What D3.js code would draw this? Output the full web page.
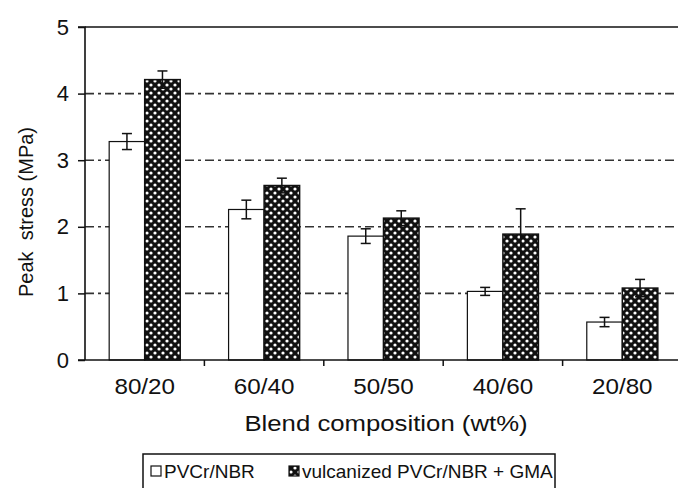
<!DOCTYPE html>
<html>
<head>
<meta charset="utf-8">
<script src="https://cdn.jsdelivr.net/npm/d3@7"></script>
<style>
  body { margin: 0; background: #fff; }
  svg { display: block; font-family: "Liberation Sans", Arial, sans-serif; }
</style>
</head>
<body>
<svg id="chart"></svg>
<script>
// data
const categories = ["80/20", "60/40", "50/50", "40/60", "20/80"];
const seriesNames = ["PVCr/NBR", "vulcanized PVCr/NBR + GMA"];
const pvcValues = [3.28, 2.26, 1.86, 1.03, 0.57];
const pvcErrors = [0.12, 0.14, 0.11, 0.06, 0.07];
const gmaValues = [4.21, 2.62, 2.13, 1.89, 1.08];
const gmaErrors = [0.13, 0.11, 0.11, 0.38, 0.13];
const yTicks = [0, 1, 2, 3, 4, 5];

const width = 678, height = 488;
const margin = { top: 27, right: -4, bottom: 128, left: 85 };
const innerW = width - margin.left - margin.right;
const innerH = height - margin.top - margin.bottom;

const svg = d3.select("#chart").attr("width", width).attr("height", height);

// dotted pattern for the dark bars
const defs = svg.append("defs");
const pat = defs.append("pattern")
  .attr("id", "dots")
  .attr("patternUnits", "userSpaceOnUse")
  .attr("width", 8).attr("height", 8);
pat.append("rect").attr("width", 8).attr("height", 8).attr("fill", "#111");
pat.append("circle").attr("cx", 2).attr("cy", 2).attr("r", 1.6).attr("fill", "#fff");
pat.append("circle").attr("cx", 6).attr("cy", 6).attr("r", 1.6).attr("fill", "#fff");

const g = svg.append("g").attr("transform", `translate(${margin.left},${margin.top})`);

const x = d3.scaleBand().domain(categories).range([0, innerW]).paddingInner(0).paddingOuter(0);
const xSub = d3.scaleBand().domain(seriesNames).range([0, x.bandwidth() * 0.595])
  .padding(0);
const groupOffset = (x.bandwidth() - xSub.range()[1]) / 2;
const y = d3.scaleLinear().domain([0, 5]).range([innerH, 0]);

// gridlines
g.append("g")
  .selectAll("line")
  .data(yTicks.filter(d => d > 0 && d < 5))
  .join("line")
  .attr("x1", 0).attr("x2", innerW)
  .attr("y1", d => y(d)).attr("y2", d => y(d))
  .attr("stroke", "#333").attr("stroke-width", 1.6)
  .attr("stroke-dasharray", "9,4,3,4");

// top line
g.append("line")
  .attr("x1", 0).attr("x2", innerW)
  .attr("y1", y(5)).attr("y2", y(5))
  .attr("stroke", "#111").attr("stroke-width", 1.6);

const rows = categories.map((c, i) => [
  { cat: c, s: seriesNames[0], v: pvcValues[i], e: pvcErrors[i] },
  { cat: c, s: seriesNames[1], v: gmaValues[i], e: gmaErrors[i] }
]).flat();

// bars
g.append("g")
  .selectAll("rect")
  .data(rows)
  .join("rect")
  .attr("x", d => x(d.cat) + groupOffset + xSub(d.s))
  .attr("y", d => y(d.v))
  .attr("width", xSub.bandwidth())
  .attr("height", d => y(0) - y(d.v))
  .attr("fill", d => d.s === seriesNames[0] ? "#fff" : "url(#dots)")
  .attr("stroke", "#111")
  .attr("stroke-width", d => d.s === seriesNames[0] ? 1.2 : 1.5);

// error bars
const eb = g.append("g").selectAll("g").data(rows).join("g")
  .attr("transform", d => `translate(${x(d.cat) + groupOffset + xSub(d.s) + xSub.bandwidth() / 2},0)`)
  .attr("stroke", "#111").attr("stroke-width", 1.5);
eb.append("line")
  .attr("y1", d => y(d.v - d.e)).attr("y2", d => y(d.v + d.e));
eb.append("line")
  .attr("x1", -5).attr("x2", 5)
  .attr("y1", d => y(d.v + d.e)).attr("y2", d => y(d.v + d.e));
eb.append("line")
  .attr("x1", -5).attr("x2", 5)
  .attr("y1", d => y(d.v - d.e)).attr("y2", d => y(d.v - d.e));

// y axis
const yAxis = g.append("g")
  .call(d3.axisLeft(y).tickValues(yTicks).tickSize(7).tickPadding(9).tickFormat(d3.format("d")));
yAxis.select(".domain").attr("stroke", "#111").attr("stroke-width", 1.6).attr("d", `M-7,${y(5)}H0V${y(0)}`);
yAxis.selectAll(".tick line").attr("stroke", "#111").attr("stroke-width", 1.5);
yAxis.selectAll(".tick text").attr("fill", "#111").attr("font-size", 22)
  .attr("font-family", "Liberation Sans, Arial, sans-serif");

// x axis: ticks between categories
const xAxis = g.append("g").attr("transform", `translate(0,${innerH})`);
xAxis.append("line")
  .attr("x1", -7).attr("x2", innerW)
  .attr("stroke", "#111").attr("stroke-width", 1.6);
xAxis.selectAll(".sep")
  .data(categories.slice(1))
  .join("line")
  .attr("class", "sep")
  .attr("x1", d => x(d)).attr("x2", d => x(d))
  .attr("y1", 0).attr("y2", 6)
  .attr("stroke", "#111").attr("stroke-width", 1.5);
xAxis.selectAll("text")
  .data(categories)
  .join("text")
  .attr("transform", d => `translate(${x(d) + x.bandwidth() / 2},34) scale(1.1,1)`)
  .attr("text-anchor", "middle")
  .attr("font-size", 22)
  .attr("fill", "#111")
  .text(d => d);

// axis titles
svg.append("text")
  .attr("transform", "translate(386,431) scale(1.17,1)")
  .attr("text-anchor", "middle")
  .attr("font-size", 22)
  .attr("fill", "#111")
  .text("Blend composition (wt%)");

svg.append("text")
  .attr("transform", "translate(33,212) rotate(-90)")
  .attr("text-anchor", "middle")
  .attr("font-size", 20)
  .attr("fill", "#111")
  .text("Peak\u00a0\u00a0stress (MPa)");

// legend
const legend = svg.append("g").attr("transform", "translate(143,454)");
legend.append("rect")
  .attr("width", 412).attr("height", 50)
  .attr("fill", "#fff").attr("stroke", "#111").attr("stroke-width", 1.5);
const items = legend.selectAll("g.item")
  .data(seriesNames)
  .join("g")
  .attr("class", "item")
  .attr("transform", (d, i) => `translate(${i === 0 ? 8 : 146},0)`);
items.append("rect")
  .attr("x", 0).attr("y", 12)
  .attr("width", 10).attr("height", 10)
  .attr("fill", (d, i) => i === 0 ? "#fff" : "url(#dots)")
  .attr("stroke", "#111").attr("stroke-width", 1.2);
items.append("text")
  .attr("x", 13).attr("y", 24)
  .attr("font-size", 19)
  .attr("fill", "#111")
  .text(d => d);
</script>
</body>
</html>
